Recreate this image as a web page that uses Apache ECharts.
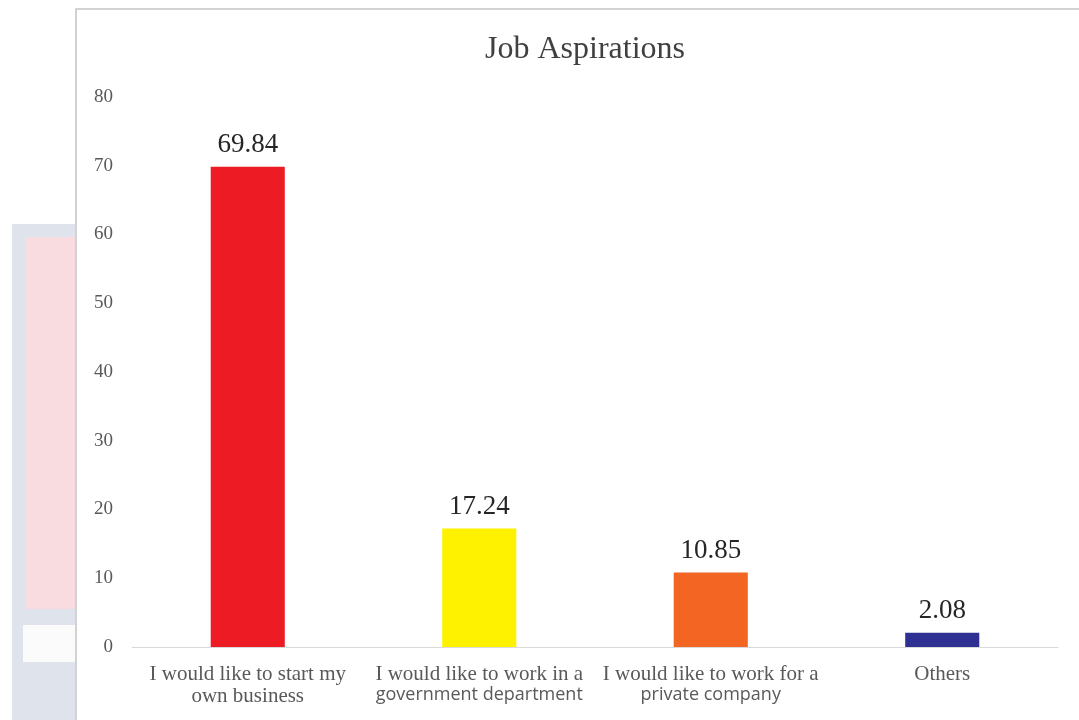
<!DOCTYPE html>
<html>
<head>
<meta charset="utf-8">
<title>Job Aspirations</title>
<script src="https://cdn.jsdelivr.net/npm/echarts@6/dist/echarts.min.js"></script>
<style>
  html, body { margin: 0; padding: 0; background: #ffffff; }
  #chart { width: 1079px; height: 720px; }
</style>
</head>
<body>
<div id="chart"></div>
<script>
// Survey answers: share of respondents (%) for each job aspiration
const categories = [
  'I would like to start my\nown business',
  'I would like to work in a\ngovernment department',
  'I would like to work for a\nprivate company',
  'Others'
];
const shares = [69.84, 17.24, 10.85, 2.08];
const barColors = ['#ED1C24', '#FFF200', '#F26522', '#2E3192'];
const yTicks = { min: 0, max: 80, interval: 10 };

const SERIF = '"Liberation Serif", "DejaVu Serif", serif';
const SANS = '"Open Sans", "Noto Sans", sans-serif';

const chart = echarts.init(document.getElementById('chart'), null, { renderer: 'canvas' });

chart.setOption({
  backgroundColor: '#ffffff',
  animation: false,
  title: {
    text: 'Job Aspirations',
    left: 580,
    textAlign: 'center',
    top: 29,
    textStyle: { fontFamily: SERIF, fontSize: 32, fontWeight: 'normal', color: '#404040' }
  },
  // faded page decoration behind the chart panel, plus the panel frame
  graphic: [
    { type: 'rect', z: -10, shape: { x: 12, y: 224, width: 80, height: 500 },
      style: { fill: '#dfe3ec' } },
    { type: 'rect', z: -9, shape: { x: 25, y: 237, width: 70, height: 372 },
      style: { fill: '#f9dcdf' } },
    { type: 'rect', z: -9, shape: { x: 23, y: 625, width: 70, height: 37 },
      style: { fill: '#fbfbfc' } },
    { type: 'rect', z: -5, shape: { x: 76, y: 9, width: 1020, height: 730 },
      style: { fill: '#ffffff', stroke: '#d2d2d2', lineWidth: 2 } }
  ],
  grid: { left: 132, right: 21, top: 97, bottom: 73 },
  xAxis: {
    type: 'category',
    data: categories,
    axisLine: { lineStyle: { color: '#d9d9d9', width: 1 } },
    axisTick: { show: false },
    axisLabel: {
      interval: 0,
      margin: 16,
      color: '#595959',
      fontFamily: SERIF,
      fontSize: 21,
      lineHeight: 22,
      formatter: function (value, index) {
        const lines = value.split('\n');
        return lines.map(function (line, i) {
          // the second line of the middle two labels is set in a sans face
          const style = (i === 1 && (index === 1 || index === 2)) ? 'sans' : 'serif';
          return '{' + style + '|' + line + '}';
        }).join('\n');
      },
      rich: {
        serif: { fontFamily: SERIF, fontSize: 21, lineHeight: 22, color: '#595959' },
        sans: { fontFamily: SANS, fontSize: 18, lineHeight: 20, color: '#595959' }
      }
    }
  },
  yAxis: {
    type: 'value',
    min: yTicks.min,
    max: yTicks.max,
    interval: yTicks.interval,
    axisLine: { show: false },
    axisTick: { show: false },
    splitLine: { show: false },
    axisLabel: { margin: 19, color: '#595959', fontFamily: SERIF, fontSize: 19 }
  },
  series: [{
    type: 'bar',
    barWidth: '32%',
    data: shares.map(function (v, i) {
      return { value: v, itemStyle: { color: barColors[i] } };
    }),
    label: {
      show: true,
      position: 'top',
      distance: 8,
      color: '#262626',
      fontFamily: SERIF,
      fontSize: 27,
      formatter: function (p) { return p.value.toFixed(2); }
    }
  }]
});
</script>
</body>
</html>
